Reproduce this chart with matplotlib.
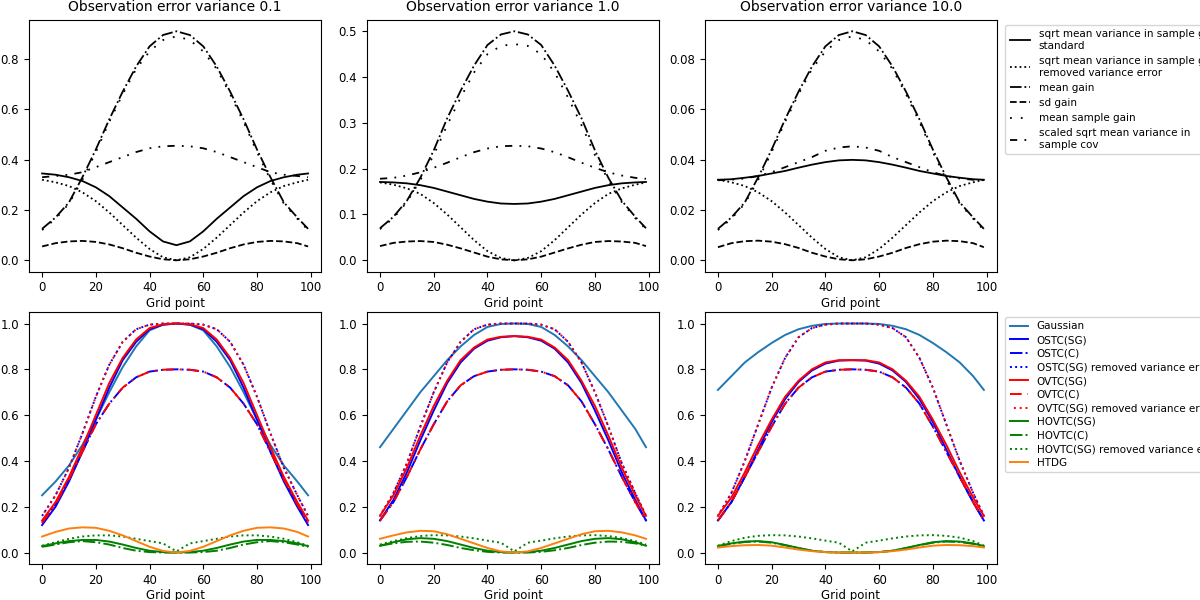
import numpy as np
import matplotlib
matplotlib.use('Agg')
import matplotlib.pyplot as plt

# Valores lidos em x = 0, 5, ..., 50 (curvas simétricas em torno do ponto 50)
x_meio = np.arange(0, 51, 5)
x = np.concatenate([x_meio, 100 - x_meio[::-1][1:]])
x[-1] = 99

def espelhar(v):
    v = np.asarray(v, dtype=float)
    return np.concatenate([v, v[::-1][1:]])

variancias = ['0.1', '1.0', '10.0']

# ---- linha de cima: estatísticas do ganho ----
topo = {
    '0.1': {
        'standard': [0.345, 0.34, 0.33, 0.315, 0.29, 0.255, 0.21, 0.165, 0.115, 0.075, 0.06],
        'removed':  [0.32, 0.31, 0.295, 0.27, 0.235, 0.19, 0.14, 0.09, 0.045, 0.012, 0.0],
        'mean':     [0.125, 0.17, 0.23, 0.33, 0.44, 0.56, 0.67, 0.77, 0.85, 0.895, 0.91],
        'sd':       [0.055, 0.068, 0.075, 0.077, 0.073, 0.063, 0.048, 0.03, 0.015, 0.004, 0.0],
        'sample':   [0.12, 0.165, 0.225, 0.32, 0.43, 0.55, 0.66, 0.76, 0.83, 0.875, 0.89],
        'scaled':   [0.33, 0.335, 0.34, 0.35, 0.37, 0.39, 0.41, 0.43, 0.445, 0.453, 0.455],
    },
    '1.0': {
        'standard': [0.171, 0.17, 0.168, 0.164, 0.158, 0.15, 0.142, 0.134, 0.128, 0.124, 0.123],
        'removed':  [0.17, 0.165, 0.157, 0.145, 0.125, 0.1, 0.072, 0.044, 0.02, 0.005, 0.0],
        'mean':     [0.07, 0.095, 0.13, 0.18, 0.24, 0.31, 0.37, 0.425, 0.47, 0.493, 0.5],
        'sd':       [0.031, 0.038, 0.041, 0.042, 0.04, 0.034, 0.026, 0.017, 0.008, 0.002, 0.0],
        'sample':   [0.068, 0.092, 0.127, 0.175, 0.23, 0.295, 0.355, 0.41, 0.45, 0.468, 0.472],
        'scaled':   [0.178, 0.18, 0.185, 0.192, 0.202, 0.213, 0.225, 0.236, 0.244, 0.249, 0.25],
    },
    '10.0': {
        'standard': [0.032, 0.0322, 0.0328, 0.0335, 0.0345, 0.0355, 0.0368, 0.038, 0.039, 0.0397, 0.0399],
        'removed':  [0.032, 0.031, 0.0295, 0.027, 0.0235, 0.019, 0.014, 0.009, 0.0045, 0.0012, 0.0],
        'mean':     [0.0125, 0.017, 0.023, 0.033, 0.044, 0.056, 0.067, 0.077, 0.085, 0.0895, 0.091],
        'sd':       [0.0052, 0.0068, 0.0076, 0.0078, 0.0074, 0.0064, 0.0049, 0.003, 0.0015, 0.0004, 0.0],
        'sample':   [0.012, 0.0165, 0.0225, 0.032, 0.043, 0.055, 0.066, 0.076, 0.083, 0.0875, 0.089],
        'scaled':   [0.0318, 0.032, 0.0325, 0.0335, 0.035, 0.037, 0.039, 0.041, 0.0435, 0.0448, 0.0453],
    },
}

estilos_topo = [
    ('standard', 'sqrt mean variance in sample gain\nstandard', '-'),
    ('removed', 'sqrt mean variance in sample gain\nremoved variance error', ':'),
    ('mean', 'mean gain', '-.'),
    ('sd', 'sd gain', '--'),
    ('sample', 'mean sample gain', (0, (1, 5))),
    ('scaled', 'scaled sqrt mean variance in\nsample cov', (0, (4, 4, 1, 4, 1, 4))),
]

# ---- linha de baixo: ganhos por método ----
baixo = {
    '0.1': {
        'gauss':   [0.25, 0.31, 0.38, 0.47, 0.58, 0.70, 0.81, 0.90, 0.97, 0.995, 1.0],
        'ost_sg':  [0.12, 0.20, 0.31, 0.44, 0.58, 0.72, 0.84, 0.92, 0.975, 0.995, 1.0],
        'ovt_sg':  [0.14, 0.22, 0.33, 0.46, 0.60, 0.74, 0.85, 0.93, 0.98, 0.997, 1.0],
        'rem':     [0.16, 0.25, 0.37, 0.52, 0.68, 0.82, 0.92, 0.975, 0.995, 1.0, 1.0],
        'c':       [0.13, 0.21, 0.32, 0.44, 0.56, 0.65, 0.72, 0.765, 0.79, 0.798, 0.8],
        'h_sg':    [0.028, 0.04, 0.05, 0.055, 0.055, 0.048, 0.035, 0.02, 0.008, 0.002, 0.0],
        'h_c':     [0.025, 0.035, 0.045, 0.05, 0.045, 0.035, 0.02, 0.008, 0.002, 0.0, 0.0],
        'h_rem':   [0.03, 0.045, 0.06, 0.07, 0.075, 0.075, 0.07, 0.06, 0.05, 0.04, 0.005],
        'htdg':    [0.07, 0.09, 0.105, 0.11, 0.108, 0.095, 0.075, 0.05, 0.025, 0.007, 0.0],
    },
    '1.0': {
        'gauss':   [0.46, 0.54, 0.62, 0.70, 0.77, 0.84, 0.90, 0.95, 0.985, 0.998, 1.0],
        'ost_sg':  [0.14, 0.23, 0.35, 0.49, 0.62, 0.74, 0.83, 0.89, 0.925, 0.94, 0.945],
        'ovt_sg':  [0.16, 0.25, 0.37, 0.51, 0.64, 0.75, 0.84, 0.895, 0.93, 0.942, 0.945],
        'rem':     [0.16, 0.26, 0.39, 0.55, 0.70, 0.83, 0.92, 0.975, 0.995, 1.0, 1.0],
        'c':       [0.14, 0.22, 0.33, 0.45, 0.56, 0.66, 0.73, 0.77, 0.79, 0.798, 0.8],
        'h_sg':    [0.03, 0.045, 0.058, 0.063, 0.06, 0.05, 0.035, 0.02, 0.008, 0.002, 0.0],
        'h_c':     [0.03, 0.04, 0.047, 0.048, 0.043, 0.033, 0.02, 0.01, 0.003, 0.0, 0.0],
        'h_rem':   [0.035, 0.05, 0.063, 0.072, 0.076, 0.075, 0.07, 0.062, 0.052, 0.043, 0.005],
        'htdg':    [0.06, 0.075, 0.088, 0.095, 0.093, 0.08, 0.06, 0.04, 0.02, 0.005, 0.0],
    },
    '10.0': {
        'gauss':   [0.71, 0.77, 0.83, 0.875, 0.915, 0.95, 0.975, 0.99, 0.998, 1.0, 1.0],
        'ost_sg':  [0.14, 0.22, 0.33, 0.45, 0.57, 0.67, 0.745, 0.795, 0.825, 0.838, 0.84],
        'ovt_sg':  [0.16, 0.24, 0.35, 0.47, 0.58, 0.68, 0.75, 0.80, 0.83, 0.84, 0.84],
        'rem':     [0.16, 0.26, 0.40, 0.56, 0.72, 0.85, 0.94, 0.98, 0.995, 1.0, 1.0],
        'c':       [0.14, 0.22, 0.33, 0.44, 0.55, 0.65, 0.72, 0.765, 0.79, 0.798, 0.8],
        'h_sg':    [0.028, 0.04, 0.048, 0.05, 0.045, 0.033, 0.02, 0.008, 0.002, 0.0, 0.0],
        'h_c':     [0.028, 0.038, 0.046, 0.048, 0.043, 0.032, 0.019, 0.008, 0.002, 0.0, 0.0],
        'h_rem':   [0.03, 0.05, 0.065, 0.073, 0.076, 0.075, 0.07, 0.062, 0.052, 0.043, 0.005],
        'htdg':    [0.022, 0.028, 0.032, 0.033, 0.03, 0.022, 0.013, 0.006, 0.002, 0.0, 0.0],
    },
}

estilos_baixo = [
    ('gauss', 'Gaussian', '#1f77b4', '-'),
    ('ost_sg', 'OSTC(SG)', 'blue', '-'),
    ('c', 'OSTC(C)', 'blue', '-.'),
    ('rem', 'OSTC(SG) removed variance error', 'blue', ':'),
    ('ovt_sg', 'OVTC(SG)', 'red', '-'),
    ('c', 'OVTC(C)', 'red', (0, (6, 3, 1, 3))),
    ('rem', 'OVTC(SG) removed variance error', 'red', (1, (1, 2))),
    ('h_sg', 'HOVTC(SG)', 'green', '-'),
    ('h_c', 'HOVTC(C)', 'green', '-.'),
    ('h_rem', 'HOVTC(SG) removed variance error', 'green', ':'),
    ('htdg', 'HTDG', '#ff7f0e', '-'),
]

fig, axes = plt.subplots(2, 3, figsize=(12, 6), dpi=100)
plt.subplots_adjust(left=0.024, right=0.831, top=0.967, bottom=0.06, wspace=0.155, hspace=0.16)

for i, var in enumerate(variancias):
    ax = axes[0, i]
    for chave, rotulo, ls in estilos_topo:
        ax.plot(x, espelhar(topo[var][chave]), color='black', linestyle=ls, lw=1.3, label=rotulo)
    ax.set_title(f'Observation error variance {var}', fontsize=10)
    ax.set_xlabel('Grid point', fontsize=8.5, labelpad=2)
    ax.tick_params(labelsize=8.5)

    ax = axes[1, i]
    for chave, rotulo, cor, ls in estilos_baixo:
        ax.plot(x, espelhar(baixo[var][chave]), color=cor, linestyle=ls, lw=1.4, label=rotulo)
    ax.set_xlabel('Grid point', fontsize=8.5, labelpad=2)
    ax.set_ylim(-0.05, 1.05)
    ax.tick_params(labelsize=8.5)

axes[0, 2].legend(loc='upper left', bbox_to_anchor=(1.01, 1.0), fontsize=7.5)
axes[1, 2].legend(loc='upper left', bbox_to_anchor=(1.01, 1.0), fontsize=7.5,
                  handlelength=1.8, labelspacing=0.35)

plt.savefig('out.png', dpi=100)
